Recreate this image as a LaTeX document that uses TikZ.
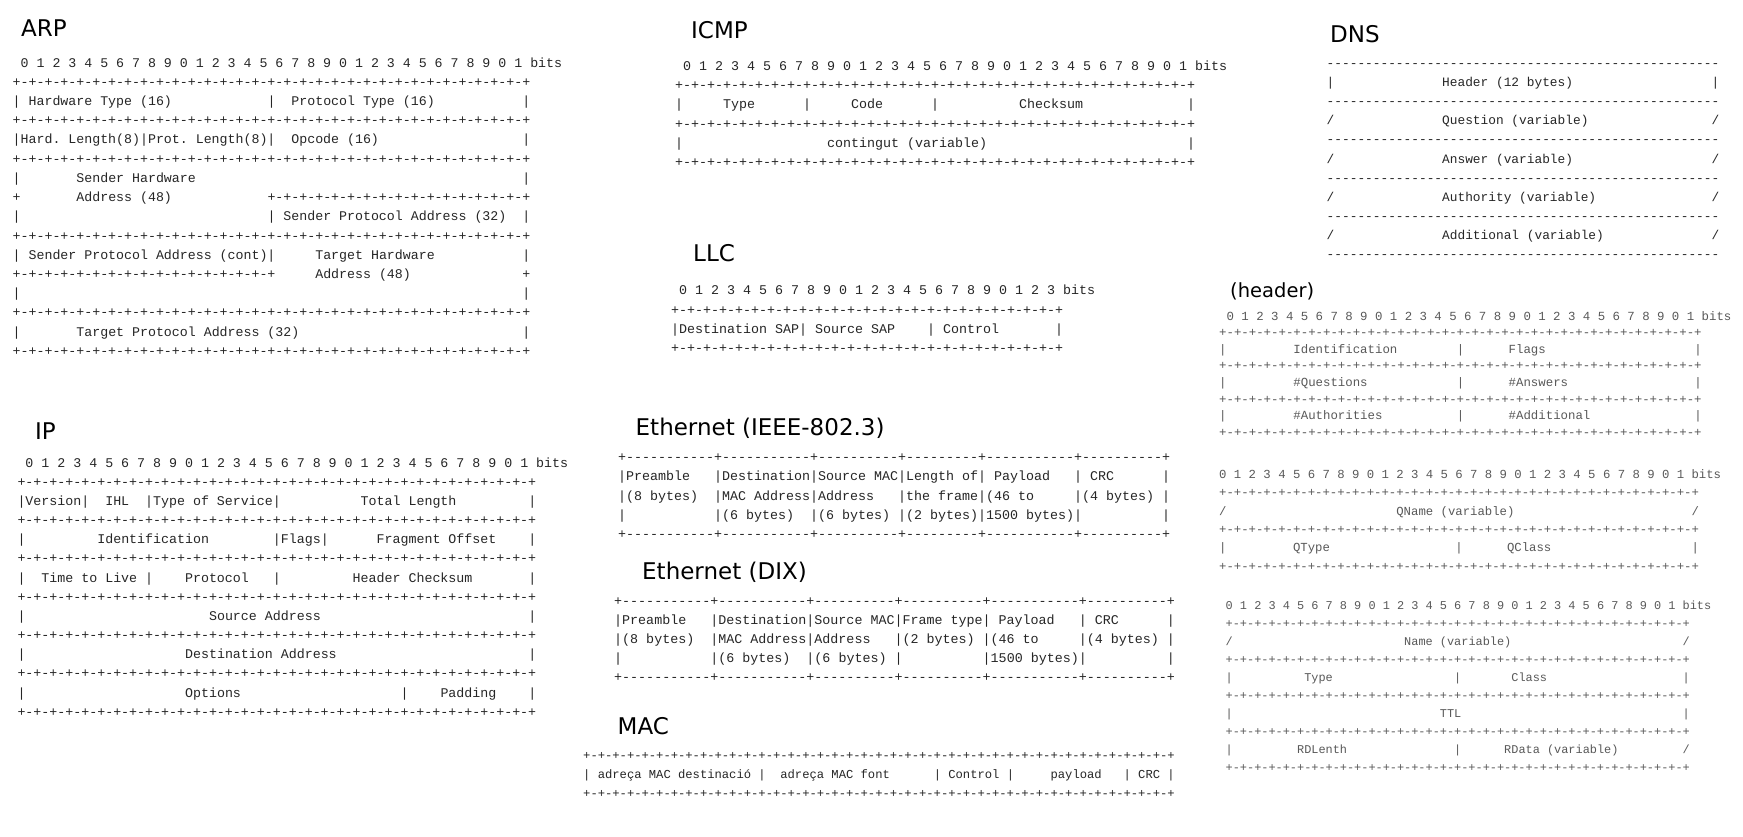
\documentclass[tikz,border=0pt]{standalone}
\usepackage{fontspec}
\setmonofont{Liberation Mono}
\newfontfamily\titlefont{DejaVu Sans}
\frenchspacing

% pieces of the ascii frames
\newcommand\blanks[1]{\hskip#1\fontdimen2\font\relax}
\newcommand\dashes[1]{\foreach\bitn in {1,...,#1}{-}}
\newcommand\ruleseg[1]{+\foreach\bitn in {1,...,#1}{-+}}
\newcommand\fieldrow[1]{\hbox{#1}}
\newcommand\bitrule[1]{\hbox{\ruleseg{#1}}}
\newcommand\dashrow[1]{\hbox{\dashes{#1}}}
\newcommand\bitnums[2]{\hbox{\blanks{#1}\foreach\bitn in {0,...,#2}{\pgfmathtruncatemacro\bitd{mod(\bitn,10)}\bitd\ }bits}}

\begin{document}
\begin{tikzpicture}[x=1pt, y=-1pt,
    frametitle/.style={inner sep=0pt, anchor=base west, font=\titlefont\fontsize{23}{27}\selectfont},
    ascii/.style 2 args={inner sep=0pt, anchor=base west, text=black!85, font=\ttfamily\fontsize{#1}{#2}\selectfont}]
  \fill[white] (0,0) rectangle (1743,836);
  \useasboundingbox (0,0) rectangle (1743,836);
  % Titles
  \node[frametitle] (arp-t) at (21,36.2) {ARP};
  \node[frametitle] (icmp-t) at (691,38.4) {ICMP};
  \node[frametitle] (dns-t) at (1330,42.9) {DNS};
  \node[frametitle] (llc-t) at (693,261.8) {LLC};
  \node[frametitle, font=\titlefont\fontsize{19.5}{23}\selectfont] (hdr-t) at (1230,297) {(header)};
  \node[frametitle] (ip-t) at (35,439.7) {IP};
  \node[frametitle] (ieee-t) at (635.5,435) {Ethernet (IEEE-802.3)};
  \node[frametitle] (dix-t) at (642,579.5) {Ethernet (DIX)};
  \node[frametitle] (mac-t) at (617.5,734.4) {MAC};
  % ARP
  \node[ascii={13.27}{19.22}] (arp) at (12.5,67.1) {\vtop{
    \bitnums{1}{31}
    \bitrule{32}
    \fieldrow{| Hardware Type (16)\blanks{12}|\blanks{2}Protocol Type (16)\blanks{11}|}
    \bitrule{32}
    \fieldrow{|Hard. Length(8)|Prot. Length(8)|\blanks{2}Opcode (16)\blanks{18}|}
    \bitrule{32}
    \fieldrow{|\blanks{7}Sender Hardware\blanks{41}|}
    \fieldrow{+\blanks{7}Address (48)\blanks{12}\ruleseg{16}}
    \fieldrow{|\blanks{31}| Sender Protocol Address (32)\blanks{2}|}
    \bitrule{32}
    \fieldrow{| Sender Protocol Address (cont)|\blanks{5}Target Hardware\blanks{11}|}
    \fieldrow{\ruleseg{16}\blanks{5}Address (48)\blanks{14}+}
    \fieldrow{|\blanks{63}|}
    \bitrule{32}
    \fieldrow{|\blanks{7}Target Protocol Address (32)\blanks{28}|}
    \bitrule{32}
  }};
  % ICMP
  \node[ascii={13.33}{19.2}] (icmp) at (675,70.4) {\vtop{
    \bitnums{1}{31}
    \bitrule{32}
    \fieldrow{|\blanks{5}Type\blanks{6}|\blanks{5}Code\blanks{6}|\blanks{10}Checksum\blanks{13}|}
    \bitrule{32}
    \fieldrow{|\blanks{18}contingut (variable)\blanks{25}|}
    \bitrule{32}
  }};
  % DNS
  \node[ascii={12.83}{19.1}] (dns) at (1326.5,67.5) {\vtop{
    \dashrow{51}
    \fieldrow{|\blanks{14}Header (12 bytes)\blanks{18}|}
    \dashrow{51}
    \fieldrow{/\blanks{14}Question (variable)\blanks{16}/}
    \dashrow{51}
    \fieldrow{/\blanks{14}Answer (variable)\blanks{18}/}
    \dashrow{51}
    \fieldrow{/\blanks{14}Authority (variable)\blanks{15}/}
    \dashrow{51}
    \fieldrow{/\blanks{14}Additional (variable)\blanks{14}/}
    \dashrow{51}
  }};
  % LLC
  \node[ascii={13.33}{19.2}] (llc) at (671,294.9) {\vtop{
    \bitnums{1}{23}
    \bitrule{24}
    \fieldrow{|Destination SAP| Source SAP\blanks{4}| Control\blanks{7}|}
    \bitrule{24}
  }};
  % DNS header
  \node[ascii={12.37}{16.6}, text=black!65] (hdr) at (1219,320) {\vtop{
    \bitnums{1}{31}
    \bitrule{32}
    \fieldrow{|\blanks{9}Identification\blanks{8}|\blanks{6}Flags\blanks{20}|}
    \bitrule{32}
    \fieldrow{|\blanks{9}\#Questions\blanks{12}|\blanks{6}\#Answers\blanks{17}|}
    \bitrule{32}
    \fieldrow{|\blanks{9}\#Authorities\blanks{10}|\blanks{6}\#Additional\blanks{14}|}
    \bitrule{32}
  }};
  % DNS question
  \node[ascii={12.3}{18.4}, text=black!65] (qst) at (1219,478.2) {\vtop{
    \bitnums{0}{31}
    \bitrule{32}
    \fieldrow{/\blanks{23}QName (variable)\blanks{24}/}
    \bitrule{32}
    \fieldrow{|\blanks{9}QType\blanks{17}|\blanks{6}QClass\blanks{19}|}
    \bitrule{32}
  }};
  % DNS resource record
  \node[ascii={11.9}{18.02}, text=black!65] (rr) at (1225.5,609.3) {\vtop{
    \bitnums{0}{31}
    \bitrule{32}
    \fieldrow{/\blanks{24}Name (variable)\blanks{24}/}
    \bitrule{32}
    \fieldrow{|\blanks{10}Type\blanks{17}|\blanks{7}Class\blanks{19}|}
    \bitrule{32}
    \fieldrow{|\blanks{29}TTL\blanks{31}|}
    \bitrule{32}
    \fieldrow{|\blanks{9}RDLenth\blanks{15}|\blanks{6}RData (variable)\blanks{9}/}
    \bitrule{32}
  }};
  % IP
  \node[ascii={13.3}{19.15}] (ip) at (17.3,467.2) {\vtop{
    \bitnums{1}{31}
    \bitrule{32}
    \fieldrow{|Version|\blanks{2}IHL\blanks{2}|Type of Service|\blanks{10}Total Length\blanks{9}|}
    \bitrule{32}
    \fieldrow{|\blanks{9}Identification\blanks{8}|Flags|\blanks{6}Fragment Offset\blanks{4}|}
    \bitrule{32}
    \fieldrow{|\blanks{2}Time to Live |\blanks{4}Protocol\blanks{3}|\blanks{9}Header Checksum\blanks{7}|}
    \bitrule{32}
    \fieldrow{|\blanks{23}Source Address\blanks{26}|}
    \bitrule{32}
    \fieldrow{|\blanks{20}Destination Address\blanks{24}|}
    \bitrule{32}
    \fieldrow{|\blanks{20}Options\blanks{20}|\blanks{4}Padding\blanks{4}|}
    \bitrule{32}
  }};
  % Ethernet (IEEE-802.3)
  \node[ascii={13.33}{19.18}] (ieee) at (618,461.7) {\vtop{
    \fieldrow{+\dashes{11}+\dashes{11}+\dashes{10}+\dashes{9}+\dashes{11}+\dashes{10}+}
    \fieldrow{|Preamble\blanks{3}|Destination|Source MAC|Length of| Payload\blanks{3}| CRC\blanks{6}|}
    \fieldrow{|(8 bytes)\blanks{2}|MAC Address|Address\blanks{3}|the frame|(46 to\blanks{5}|(4 bytes) |}
    \fieldrow{|\blanks{11}|(6 bytes)\blanks{2}|(6 bytes) |(2 bytes)|1500 bytes)|\blanks{10}|}
    \fieldrow{+\dashes{11}+\dashes{11}+\dashes{10}+\dashes{9}+\dashes{11}+\dashes{10}+}
  }};
  % Ethernet (DIX)
  \node[ascii={13.35}{19.15}] (dix) at (614,605.1) {\vtop{
    \fieldrow{+\dashes{11}+\dashes{11}+\dashes{10}+\dashes{10}+\dashes{11}+\dashes{10}+}
    \fieldrow{|Preamble\blanks{3}|Destination|Source MAC|Frame type| Payload\blanks{3}| CRC\blanks{6}|}
    \fieldrow{|(8 bytes)\blanks{2}|MAC Address|Address\blanks{3}|(2 bytes) |(46 to\blanks{5}|(4 bytes) |}
    \fieldrow{|\blanks{11}|(6 bytes)\blanks{2}|(6 bytes) |\blanks{10}|1500 bytes)|\blanks{10}|}
    \fieldrow{+\dashes{11}+\dashes{11}+\dashes{10}+\dashes{10}+\dashes{11}+\dashes{10}+}
  }};
  % MAC
  \node[ascii={12.17}{18.9}] (mac) at (583,759.3) {\vtop{
    \bitrule{40}
    \fieldrow{| adreça MAC destinació |\blanks{2}adreça MAC font\blanks{6}| Control |\blanks{5}payload\blanks{3}| CRC |}
    \bitrule{40}
  }};
\end{tikzpicture}
\end{document}
